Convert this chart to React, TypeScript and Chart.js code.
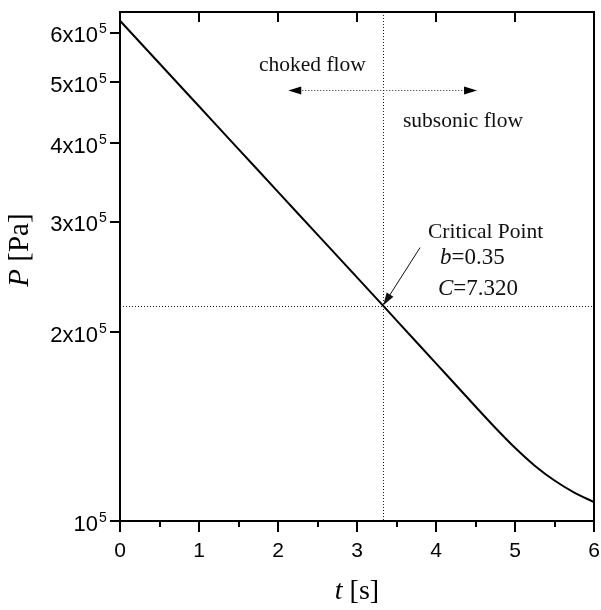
import React, { useEffect, useRef } from 'react';
import { Chart, registerables } from 'chart.js';

Chart.register(...registerables);

// ---- data ----
const timeS = [0, 0.5, 1, 1.5, 2, 2.5, 3, 3.33, 3.5, 4, 4.5, 4.75, 5, 5.25, 5.5, 5.75, 6];
const pressurePa = [
  6.265e5, 5.356e5, 4.578e5, 3.913e5, 3.345e5, 2.859e5, 2.444e5, 2.204e5, 2.088e5,
  1.783e5, 1.522e5, 1.408e5, 1.308e5, 1.225e5, 1.16e5, 1.11e5, 1.072e5,
];
const xMajorTicks = [0, 1, 2, 3, 4, 5, 6];
const xMinorTicks = [0.5, 1.5, 2.5, 3.5, 4.5, 5.5];
const yTickValues = [1e5, 2e5, 3e5, 4e5, 5e5, 6e5];
const yTickMantissa = ['10', '2x10', '3x10', '4x10', '5x10', '6x10'];
const yTickExponent = '5';
const criticalT = 3.33;
const criticalP = 2.204e5;
const flowArrowT = [2.13, 4.52];
const flowArrowP = 4.86e5;

const SANS = '"Liberation Sans", Arial, sans-serif';
const SERIF = '"Liberation Serif", "Times New Roman", serif';

function arrowHead(ctx: CanvasRenderingContext2D, tipX: number, tipY: number, fromX: number, fromY: number, len: number, halfW: number) {
  const dx = tipX - fromX;
  const dy = tipY - fromY;
  const d = Math.hypot(dx, dy) || 1;
  const ux = dx / d, uy = dy / d;
  const bx = tipX - ux * len, by = tipY - uy * len;
  ctx.beginPath();
  ctx.moveTo(tipX, tipY);
  ctx.lineTo(bx - uy * halfW, by + ux * halfW);
  ctx.lineTo(bx + uy * halfW, by - ux * halfW);
  ctx.closePath();
  ctx.fill();
}

function drawMixed(ctx: CanvasRenderingContext2D, parts: { text: string; italic?: boolean }[], x: number, y: number, size: number) {
  let cx = x;
  ctx.textAlign = 'left';
  for (const p of parts) {
    ctx.font = `${p.italic ? 'italic ' : ''}${size}px ${SERIF}`;
    ctx.fillText(p.text, cx, y);
    cx += ctx.measureText(p.text).width;
  }
}

const decorPlugin = {
  id: 'decor',
  beforeDatasetsDraw(chart: any) {
    const { ctx, chartArea: a, scales } = chart;
    const xs = scales.x, ys = scales.y;
    ctx.save();
    ctx.strokeStyle = '#222';
    ctx.lineWidth = 1;
    ctx.setLineDash([1, 2]);
    const cx = Math.round(xs.getPixelForValue(criticalT)) + 0.5;
    const cy = Math.round(ys.getPixelForValue(criticalP)) + 0.5;
    ctx.beginPath();
    ctx.moveTo(cx, a.top);
    ctx.lineTo(cx, a.bottom);
    ctx.moveTo(a.left, cy);
    ctx.lineTo(a.right, cy);
    // flow direction arrow
    const ay = Math.round(ys.getPixelForValue(flowArrowP)) + 0.5;
    const ax1 = xs.getPixelForValue(flowArrowT[0]);
    const ax2 = xs.getPixelForValue(flowArrowT[1]);
    ctx.moveTo(ax1 + 8, ay);
    ctx.lineTo(ax2 - 8, ay);
    ctx.stroke();
    ctx.setLineDash([]);
    ctx.fillStyle = '#000';
    arrowHead(ctx, ax1, ay, ax1 + 20, ay, 13, 4);
    arrowHead(ctx, ax2, ay, ax2 - 20, ay, 13, 4);
    ctx.restore();
  },
  afterDatasetsDraw(chart: any) {
    const { ctx, chartArea: a, scales } = chart;
    const xs = scales.x, ys = scales.y;
    ctx.save();
    ctx.strokeStyle = '#000';
    ctx.fillStyle = '#000';
    ctx.lineWidth = 2;
    // frame
    ctx.strokeRect(a.left, a.top, a.right - a.left, a.bottom - a.top);
    // ticks
    ctx.beginPath();
    for (const t of xMajorTicks) {
      const px = Math.round(xs.getPixelForValue(t));
      ctx.moveTo(px, a.bottom);
      ctx.lineTo(px, a.bottom + 11);
      if (t > 0 && t < 6) {
        ctx.moveTo(px, a.top);
        ctx.lineTo(px, a.top + 10);
      }
    }
    for (const t of xMinorTicks) {
      const px = Math.round(xs.getPixelForValue(t));
      ctx.moveTo(px, a.bottom);
      ctx.lineTo(px, a.bottom + 6);
    }
    for (const v of yTickValues) {
      const py = Math.round(ys.getPixelForValue(v));
      ctx.moveTo(a.left, py);
      ctx.lineTo(a.left - 10, py);
    }
    ctx.stroke();

    // x tick labels
    ctx.font = `21px ${SANS}`;
    ctx.textAlign = 'center';
    ctx.textBaseline = 'alphabetic';
    for (const t of xMajorTicks) {
      ctx.fillText(String(t), xs.getPixelForValue(t), a.bottom + 36);
    }
    // y tick labels with superscript exponent
    yTickValues.forEach((v, i) => {
      const py = ys.getPixelForValue(v);
      ctx.font = `22px ${SANS}`;
      ctx.textAlign = 'right';
      ctx.fillText(yTickMantissa[i], a.left - 22, py + 9.5);
      ctx.font = `14px ${SANS}`;
      ctx.textAlign = 'left';
      ctx.fillText(yTickExponent, a.left - 21, py + 0.5);
    });

    // axis titles
    ctx.textBaseline = 'alphabetic';
    {
      ctx.font = `italic 28px ${SERIF}`;
      const w1 = ctx.measureText('t').width;
      ctx.font = `28px ${SERIF}`;
      const w2 = ctx.measureText(' [s]').width;
      const cx = (a.left + a.right) / 2;
      drawMixed(ctx, [{ text: 't', italic: true }, { text: ' [s]' }], cx - (w1 + w2) / 2, 599, 28);
    }
    {
      ctx.save();
      ctx.translate(28, 250);
      ctx.rotate(-Math.PI / 2);
      ctx.font = `italic 29px ${SERIF}`;
      const w1 = ctx.measureText('P').width;
      ctx.font = `29px ${SERIF}`;
      const w2 = ctx.measureText(' [Pa]').width;
      drawMixed(ctx, [{ text: 'P', italic: true }, { text: ' [Pa]' }], -(w1 + w2) / 2, 0, 29);
      ctx.restore();
    }

    // annotations
    ctx.fillStyle = '#111';
    drawMixed(ctx, [{ text: 'choked flow' }], 259, 71, 21.5);
    drawMixed(ctx, [{ text: 'subsonic flow' }], 403, 127, 21.5);
    drawMixed(ctx, [{ text: 'Critical Point' }], 428, 238, 21.5);
    drawMixed(ctx, [{ text: 'b', italic: true }, { text: '=0.35' }], 440, 264, 23);
    drawMixed(ctx, [{ text: 'C', italic: true }, { text: '=7.320' }], 438, 295, 23);

    // arrow to critical point
    const tipX = xs.getPixelForValue(criticalT);
    const tipY = ys.getPixelForValue(criticalP);
    const tailX = tipX + 37, tailY = tipY - 58;
    ctx.strokeStyle = '#111';
    ctx.lineWidth = 1;
    ctx.beginPath();
    ctx.moveTo(tailX, tailY);
    ctx.lineTo(tipX + (tailX - tipX) * 0.15, tipY + (tailY - tipY) * 0.15);
    ctx.stroke();
    arrowHead(ctx, tipX, tipY, tailX, tailY, 13, 4);
    ctx.restore();
  },
};

export default function App() {
  const ref = useRef<HTMLCanvasElement>(null);
  useEffect(() => {
    document.body.style.margin = '0';
    const canvas = ref.current;
    if (!canvas) return;
    const chart = new Chart(canvas, {
      type: 'line',
      data: {
        datasets: [
          {
            data: timeS.map((t, i) => ({ x: t, y: pressurePa[i] })),
            borderColor: '#000',
            borderWidth: 2,
            pointRadius: 0,
            cubicInterpolationMode: 'monotone',
            fill: false,
          },
        ],
      },
      options: {
        responsive: false,
        animation: false,
        devicePixelRatio: 1,
        layout: { padding: { top: 12, right: 7, left: 0, bottom: 0 } },
        plugins: { legend: { display: false }, tooltip: { enabled: false } },
        scales: {
          x: {
            type: 'linear',
            min: 0,
            max: 6,
            grid: { display: false },
            border: { display: false },
            ticks: { display: false },
            afterFit: (s: any) => { s.height = 89; },
          },
          y: {
            type: 'logarithmic',
            min: 1e5,
            max: 6.47e5,
            grid: { display: false },
            border: { display: false },
            ticks: { display: false },
            afterFit: (s: any) => { s.width = 120; },
          },
        },
      },
      plugins: [decorPlugin],
    } as any);
    return () => chart.destroy();
  }, []);
  return <canvas ref={ref} width={601} height={610} style={{ display: 'block' }} />;
}
